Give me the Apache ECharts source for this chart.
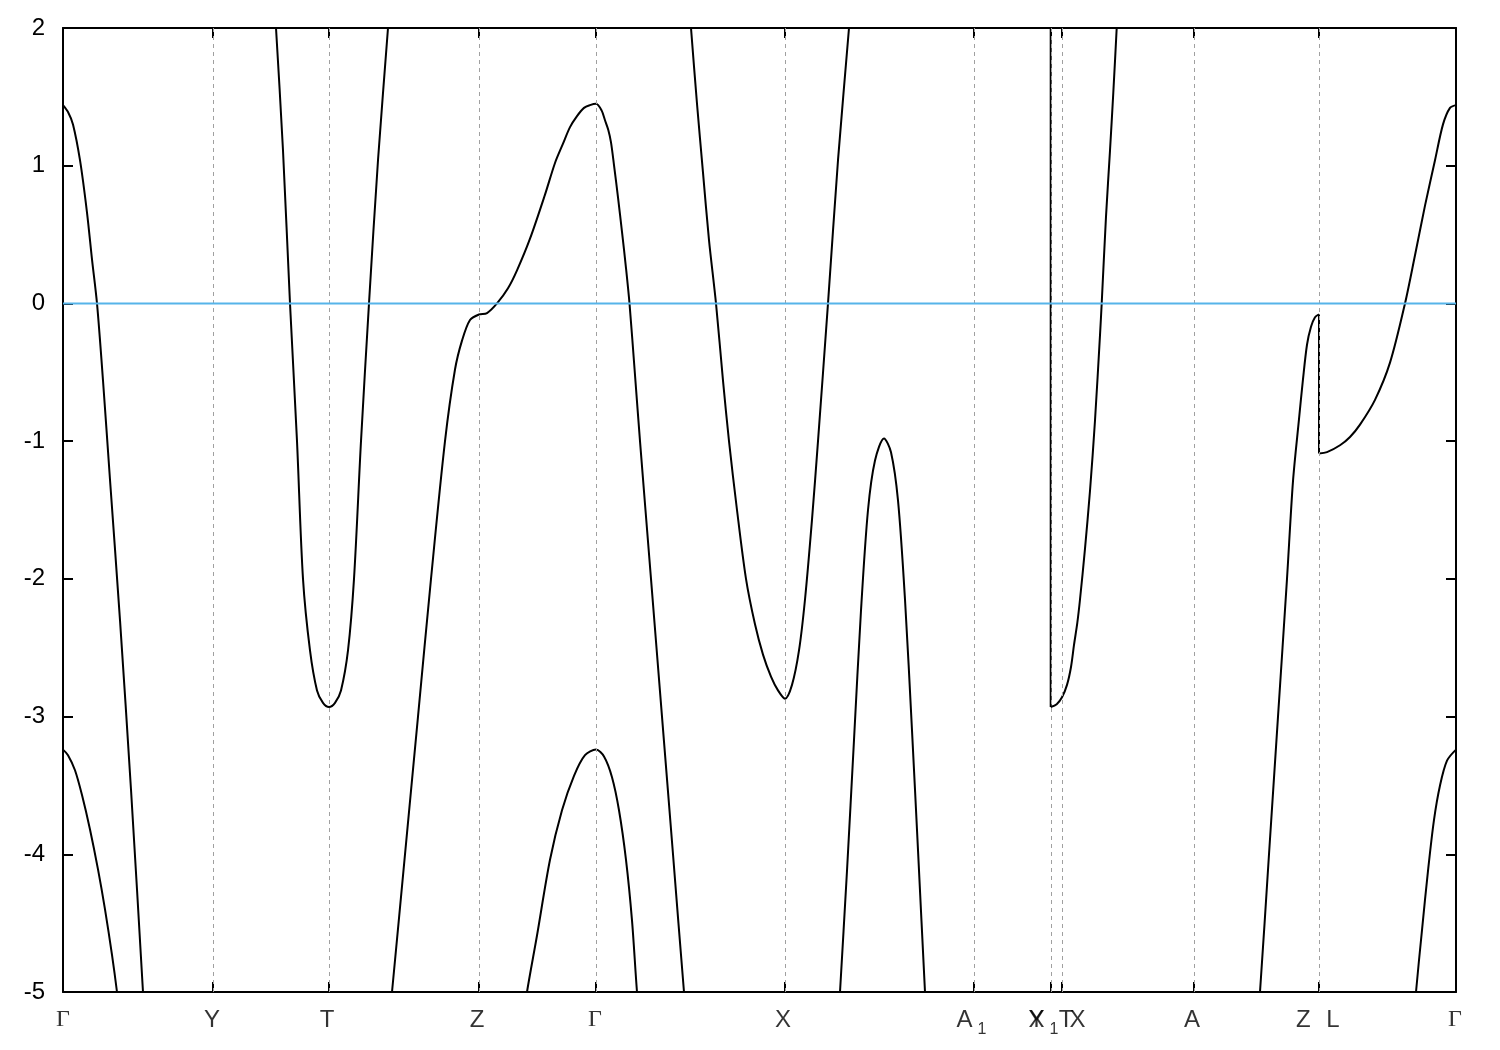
<!DOCTYPE html>
<html><head><meta charset="utf-8">
<script src="https://cdn.jsdelivr.net/npm/echarts@6/dist/echarts.min.js"></script>
<style>html,body{margin:0;padding:0;background:#fff}#c{width:1500px;height:1050px}</style>
</head><body><div id="c"></div>
<script>
// k-path positions of the high-symmetry points (tick marks)
const symTicks = [0, 1.50, 2.66, 4.16, 5.33, 7.22, 9.11, 9.88, 9.99, 11.31, 12.56, 13.93];
// tick labels and the k value each belongs to
const labelNames = ['Γ', 'Y', 'T', 'Z', 'Γ', 'X', 'A_1', 'Y', 'X_1', 'T', 'X', 'A', 'Z', 'L', 'Γ'];
const labelPos   = [0, 1.50, 2.66, 4.16, 5.33, 7.22, 9.11, 9.88, 9.88, 9.99, 9.99, 11.31, 12.56, 12.56, 13.93];
const yTicks = [-5, -4, -3, -2, -1, 0, 1, 2];
const fermiLevel = 0;

// bands: [k, E(eV)]
const bandA = [[0,1.44],[0.05,1.39],[0.10,1.30],[0.17,1.04],[0.24,0.66],[0.29,0.32],[0.34,0],[0.40,-0.56],[0.47,-1.28],[0.57,-2.30],[0.68,-3.53],[0.80,-5.00],[0.83,-5.4]];
const bandB = [[0,-3.24],[0.05,-3.28],[0.12,-3.39],[0.19,-3.57],[0.27,-3.82],[0.35,-4.11],[0.42,-4.40],[0.49,-4.73],[0.54,-5.00],[0.57,-5.2]];
const bandC = [[2.11,2.2],[2.13,2.00],[2.20,1.11],[2.27,0],[2.34,-1.00],[2.40,-2.00],[2.47,-2.52],[2.54,-2.81],[2.60,-2.90],[2.66,-2.93],[2.72,-2.90],[2.78,-2.81],[2.85,-2.52],[2.91,-2.00],[2.98,-1.00],[3.06,0],[3.15,1.04],[3.25,2.00],[3.27,2.2]];
const bandD = [[3.27,-5.13],[3.29,-5.00],[3.42,-4.00],[3.55,-3.00],[3.68,-2.00],[3.82,-1.00],[3.92,-0.48],[3.99,-0.27],[4.07,-0.12],[4.16,-0.08],[4.24,-0.07],[4.34,0],[4.45,0.11],[4.54,0.24],[4.67,0.47],[4.82,0.79],[4.92,1.02],[5.00,1.16],[5.07,1.28],[5.14,1.36],[5.21,1.42],[5.27,1.44],[5.33,1.45],[5.387,1.40],[5.42,1.33],[5.453,1.26],[5.48,1.17],[5.51,1.005],[5.55,0.77],[5.59,0.52],[5.63,0.257],[5.665,0],[5.72,-0.52],[5.77,-1.00],[5.88,-2.00],[5.99,-3.00],[6.10,-4.00],[6.21,-5.00],[6.23,-5.13]];
const bandE = [[4.62,-5.13],[4.64,-5.00],[4.74,-4.59],[4.87,-4.04],[4.99,-3.68],[5.11,-3.43],[5.22,-3.28],[5.33,-3.24],[5.41,-3.29],[5.49,-3.44],[5.56,-3.68],[5.63,-4.04],[5.69,-4.48],[5.74,-5.00],[5.76,-5.13]];
const bandF = [[6.26,2.2],[6.28,2.00],[6.34,1.45],[6.40,0.95],[6.46,0.46],[6.53,0],[6.60,-0.56],[6.66,-1.00],[6.74,-1.50],[6.83,-2.00],[6.92,-2.33],[7.00,-2.55],[7.08,-2.71],[7.15,-2.81],[7.22,-2.87],[7.29,-2.77],[7.36,-2.52],[7.42,-2.15],[7.49,-1.57],[7.55,-1.00],[7.65,0],[7.75,1.04],[7.86,2.00],[7.88,2.2]];
const bandG = [[7.76,-5.13],[7.77,-5.00],[7.84,-4.12],[7.91,-3.17],[7.98,-2.23],[8.05,-1.50],[8.12,-1.14],[8.21,-0.98],[8.28,-1.08],[8.35,-1.43],[8.42,-2.15],[8.49,-3.10],[8.55,-3.97],[8.62,-5.00],[8.63,-5.13]];
const bandH = [[9.877,-2.93],[9.937,-2.91],[9.99,-2.86],[10.04,-2.77],[10.08,-2.64],[10.11,-2.48],[10.143,-2.32],[10.17,-2.15],[10.22,-1.78],[10.27,-1.36],[10.32,-0.85],[10.37,-0.23],[10.387,0],[10.43,0.63],[10.47,1.11],[10.503,1.53],[10.537,2.00],[10.55,2.2]];
const bandI = [[11.95,-5.13],[11.97,-5.00],[12.06,-4.00],[12.15,-3.00],[12.24,-2.00],[12.30,-1.29],[12.36,-0.84],[12.40,-0.55],[12.44,-0.30],[12.48,-0.17],[12.52,-0.10],[12.56,-0.08]];
const bandL = [[12.56,-1.09],[12.64,-1.08],[12.77,-1.03],[12.87,-0.97],[12.97,-0.88],[13.12,-0.70],[13.27,-0.43],[13.42,0],[13.52,0.35],[13.62,0.71],[13.72,1.04],[13.80,1.30],[13.87,1.42],[13.93,1.44]];
const bandJ = [[13.52,-5.13],[13.53,-5.00],[13.59,-4.55],[13.65,-4.12],[13.71,-3.75],[13.77,-3.50],[13.84,-3.32],[13.93,-3.24]];
// discontinuities (band jumps at Y|X1 and Z|L)
const jumpY  = [[9.877,2.5],[9.877,-2.93]];
const jumpZL = [[12.56,-0.08],[12.56,-1.09]];

const bands = [bandA, bandB, bandC, bandD, bandE, bandF, bandG, bandH, bandI, bandL, bandJ];
const jumps = [jumpY, jumpZL];

// label nudges (px) to mimic the reference placement of crowded labels
const labelNudge = [0, -1, -2, -2, -1, -2, -2.5, -14.5, -7.5, 4, 15.5, -2, -15.7, 14, -1];

const kMin = symTicks[0], kMax = symTicks[symTicks.length - 1];
const eMin = yTicks[0], eMax = yTicks[yTicks.length - 1];

function richLabel(name) {
  if (name === 'Γ') return '{g|Γ}';
  const parts = name.split('_');
  if (parts.length === 2) return '{n|' + parts[0] + '}{s|' + parts[1] + '}';
  return '{n|' + name + '}';
}

const chart = echarts.init(document.getElementById('c'), null, {renderer: 'canvas'});
const axisCommon = {
  type: 'value', min: kMin, max: kMax,
  axisLine: {show: true, onZero: false, lineStyle: {color: '#000', width: 2}},
  axisTick: {show: true, inside: true, length: 10, customValues: symTicks, lineStyle: {color: '#000', width: 2}},
  axisLabel: {show: false},
  splitLine: {show: false}
};
const yCommon = {
  type: 'value', min: eMin, max: eMax, interval: 1,
  axisLine: {show: true, onZero: false, lineStyle: {color: '#000', width: 2}},
  axisTick: {show: true, inside: true, length: 10, lineStyle: {color: '#000', width: 2}},
  splitLine: {show: false}
};

const series = [];
// dashed vertical grid lines at interior symmetry points
series.push({
  type: 'line', data: [], silent: true, z: 1,
  markLine: {
    silent: true, symbol: 'none', animation: false,
    label: {show: false},
    lineStyle: {color: '#a0a0a0', width: 1, type: [4, 4]},
    data: symTicks.slice(1, -1).map(k => ({xAxis: k}))
  }
});
bands.forEach(b => {
  series.push({
    type: 'line', data: b, showSymbol: false, symbol: 'none', clip: true, z: 3, smooth: 0.3,
    lineStyle: {color: '#000', width: 2}, silent: true, animation: false
  });
});
jumps.forEach(b => {
  series.push({
    type: 'line', data: b, showSymbol: false, symbol: 'none', clip: true, z: 3,
    lineStyle: {color: '#000', width: 2}, silent: true, animation: false
  });
});
// Fermi level
series.push({
  type: 'line', data: [[kMin, fermiLevel], [kMax, fermiLevel]], showSymbol: false, symbol: 'none', z: 5,
  lineStyle: {color: '#56b4e9', width: 2}, silent: true, animation: false
});
// tick labels
series.push({
  type: 'scatter', symbolSize: 0, clip: false, silent: true, z: 6, animation: false,
  data: labelNames.map((n, i) => ({
    value: [labelPos[i], eMin], name: n,
    label: {offset: [labelNudge[i], 0]}
  })),
  label: {
    show: true, position: 'bottom', distance: 16,
    formatter: p => richLabel(p.name),
    rich: {
      n: {fontSize: 24, fontFamily: 'Liberation Sans', color: '#000', lineHeight: 28, verticalAlign: 'top'},
      s: {fontSize: 16, fontFamily: 'Liberation Sans', color: '#000', lineHeight: 30, verticalAlign: 'bottom', padding: [0, 0, 0, 5]},
      g: {fontSize: 24, fontFamily: 'Liberation Serif', color: '#000', lineHeight: 28, verticalAlign: 'top'}
    }
  }
});

chart.setOption({
  animation: false,
  backgroundColor: '#fff',
  grid: {left: 63, right: 44, top: 28, bottom: 58, containLabel: false},
  xAxis: [
    Object.assign({}, axisCommon, {position: 'bottom'}),
    Object.assign({}, axisCommon, {position: 'top'})
  ],
  yAxis: [
    Object.assign({}, yCommon, {position: 'left',
      axisLabel: {show: true, margin: 18, fontSize: 24, fontFamily: 'Liberation Sans', color: '#000'}}),
    Object.assign({}, yCommon, {position: 'right', axisLabel: {show: false}})
  ],
  series: series
});
</script>
</body></html>
